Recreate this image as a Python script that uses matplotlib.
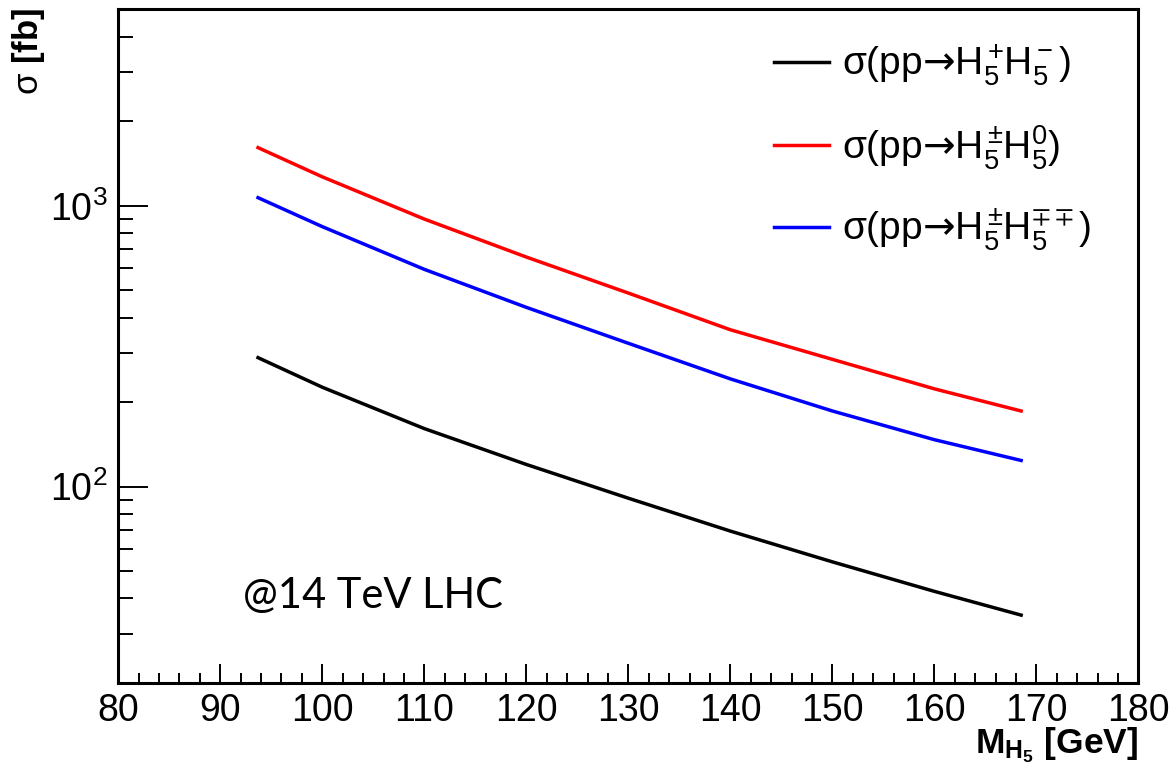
import matplotlib
matplotlib.use("Agg")
import matplotlib.pyplot as plt
from matplotlib.ticker import LogLocator, FixedLocator, MultipleLocator, NullFormatter

# data
mass = [93.7, 100, 110, 120, 130, 140, 150, 160, 168.5]
sigma_pp_mm = [288, 226, 161, 120, 91, 69.5, 54, 42.4, 34.9]       # H5+ H5-
sigma_pm_0 = [1611, 1268, 897, 657, 489, 362, 284, 223, 186]       # H5+- H50
sigma_pm_mpmp = [1069, 843, 594, 435, 324, 242, 186, 147, 124]     # H5+- H5-+-+

labels = [r'σ(pp$\mathsf{→}\mathrm{H}_5^+\!\mathrm{H}_5^-$)',
          r'σ(pp$\mathsf{→}\mathrm{H}_5^\pm\!\mathrm{H}_5^0$)',
          r'σ(pp$\mathsf{→}\mathrm{H}_5^\pm\!\mathrm{H}_5^{\mp\mp}$)']

plt.rcParams['font.family'] = ['Liberation Sans', 'DejaVu Sans']
plt.rcParams['mathtext.fontset'] = 'custom'
plt.rcParams['mathtext.rm'] = 'Liberation Sans'
plt.rcParams['mathtext.it'] = 'Liberation Sans:italic'
plt.rcParams['mathtext.bf'] = 'Liberation Sans:bold'
plt.rcParams['mathtext.sf'] = 'DejaVu Sans'
plt.rcParams['mathtext.fallback'] = 'stixsans'

fig = plt.figure(figsize=(11.71, 7.71), dpi=100)
ax = fig.add_axes([0.101, 0.1141, 0.8712, 0.8736])

lw = 2.5
ax.plot(mass, sigma_pp_mm, color='black', lw=lw, label=labels[0])
ax.plot(mass, sigma_pm_0, color='#ff0000', lw=lw, label=labels[1])
ax.plot(mass, sigma_pm_mpmp, color='#0000ff', lw=lw, label=labels[2])

ax.set_yscale('log')
ax.set_xlim(80, 180)
ax.set_ylim(20, 5000)

# ROOT-like frame and ticks
for s in ax.spines.values():
    s.set_linewidth(2.2)
ax.xaxis.set_major_locator(MultipleLocator(10))
ax.xaxis.set_minor_locator(MultipleLocator(2))
ax.yaxis.set_major_locator(FixedLocator([100, 1000]))
ax.yaxis.set_minor_locator(LogLocator(base=10, subs=range(2, 10)))
ax.yaxis.set_minor_formatter(NullFormatter())
ax.set_yticklabels([r'$10^2$', r'$10^3$'])
ax.tick_params(axis='x', which='major', direction='in', length=13.7, width=1.4,
               labelsize=27, pad=7)
ax.tick_params(axis='x', which='minor', direction='in', length=7, width=1.4)
ax.tick_params(axis='y', which='major', direction='in', length=21.6, width=1.4,
               labelsize=27, pad=8)
ax.tick_params(axis='y', which='minor', direction='in', length=10.8, width=1.4)

# legend
ax.legend(loc='upper left', bbox_to_anchor=(0.643, 0.951), frameon=False,
          fontsize=28, handlelength=1.4, handletextpad=0.34,
          labelspacing=0.9, borderpad=0, borderaxespad=0)

ax.text(0.122, 0.111, '@14 TeV LHC', transform=ax.transAxes,
        fontsize=30, family=['Lato', 'DejaVu Sans'], va='baseline', ha='left')

# axis titles
fig.text(0.024, 0.99, r'$\mathrm{\sigma}$ [fb]', rotation=90, ha='center', va='top',
         fontsize=25, fontweight='bold')
fig.text(0.972, 0.023, r'M$_{\mathbf{H_5}}$ [GeV]', ha='right', va='baseline',
         fontsize=25.5, fontweight='bold')

fig.savefig('out.png', dpi=100)
